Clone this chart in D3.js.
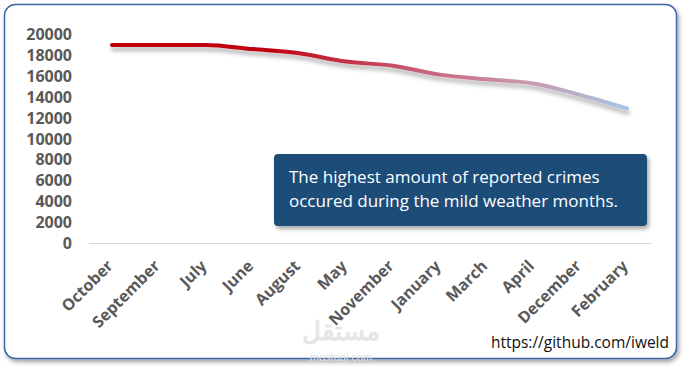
<!DOCTYPE html>
<html>
<head>
<meta charset="utf-8">
<script src="https://cdn.jsdelivr.net/npm/d3@7"></script>
<style>
  body { margin: 0; background: #fff; }
  svg { display: block; }
</style>
</head>
<body>
<svg width="684" height="367"></svg>
<script>
// data
var months = ["October", "September", "July", "June", "August", "May",
              "November", "January", "March", "April", "December", "February"];
var crimes = [19000, 19000, 19000, 18600, 18200, 17400,
              17000, 16150, 15700, 15300, 14200, 12900];
var yTicks = [0, 2000, 4000, 6000, 8000, 10000, 12000, 14000, 16000, 18000, 20000];
var note = ["The highest amount of reported crimes",
            "occured during the mild weather months."];

var svg = d3.select("svg");
var defs = svg.append("defs");

// soft shadows
var sh = defs.append("filter").attr("id", "shadow")
    .attr("x", "-10%").attr("y", "-30%").attr("width", "130%").attr("height", "180%");
sh.append("feDropShadow").attr("dx", 2).attr("dy", 3).attr("stdDeviation", 2)
    .attr("flood-color", "#000").attr("flood-opacity", 0.35);

var lsh = defs.append("filter").attr("id", "lineShadow")
    .attr("x", "-5%").attr("y", "-50%").attr("width", "110%").attr("height", "250%");
lsh.append("feDropShadow").attr("dx", 1).attr("dy", 4).attr("stdDeviation", 2)
    .attr("flood-color", "#000").attr("flood-opacity", 0.3);

// frame
svg.append("rect")
    .attr("x", 4.5).attr("y", 4.5).attr("width", 672).attr("height", 354)
    .attr("rx", 11).attr("fill", "#fff")
    .attr("stroke", "#3a66a8").attr("stroke-width", 1.5)
    .style("filter", "url(#shadow)");

var x = d3.scalePoint().domain(months).range([112, 627]);
var y = d3.scaleLinear().domain([0, 20000]).range([243, 34.5]);

// y axis labels
svg.append("g").selectAll("text")
    .data(yTicks)
    .enter().append("text")
    .attr("x", 72)
    .attr("y", function (d) { return y(d); })
    .attr("dy", "0.36em")
    .attr("text-anchor", "end")
    .style("font-family", "'Open Sans', sans-serif")
    .style("font-size", "16px")
    .style("font-weight", "bold")
    .style("fill", "#595959")
    .text(function (d) { return d; });

// baseline
svg.append("line")
    .attr("x1", 89).attr("x2", 652)
    .attr("y1", y(0) + 0.5).attr("y2", y(0) + 0.5)
    .attr("stroke", "#d9d9d9").attr("stroke-width", 1.2);

// x labels
svg.append("g").selectAll("text")
    .data(months)
    .enter().append("text")
    .attr("transform", function (d) { return "translate(" + (x(d) - 2) + ",263) rotate(-45)"; })
    .attr("text-anchor", "end")
    .attr("dy", "0.35em")
    .style("font-family", "'Open Sans', sans-serif")
    .style("font-size", "16px")
    .style("font-weight", "bold")
    .style("fill", "#595959")
    .text(function (d) { return d; });

// line gradient
var grad = defs.append("linearGradient").attr("id", "lineGrad")
    .attr("gradientUnits", "userSpaceOnUse")
    .attr("x1", x(months[0])).attr("x2", x(months[months.length - 1]))
    .attr("y1", 0).attr("y2", 0);
grad.append("stop").attr("offset", "0").attr("stop-color", "#c00000");
grad.append("stop").attr("offset", "0.3").attr("stop-color", "#c0000e");
grad.append("stop").attr("offset", "0.6").attr("stop-color", "#c8607a");
grad.append("stop").attr("offset", "0.8").attr("stop-color", "#c89aac");
grad.append("stop").attr("offset", "1").attr("stop-color", "#a9c4e6");

var line = d3.line()
    .x(function (d, i) { return x(months[i]); })
    .y(function (d) { return y(d); })
    .curve(d3.curveMonotoneX);

svg.append("path")
    .datum(crimes)
    .attr("d", line)
    .attr("fill", "none")
    .attr("stroke", "url(#lineGrad)")
    .attr("stroke-width", 4)
    .attr("stroke-linecap", "round")
    .style("filter", "url(#lineShadow)");

// callout
svg.append("rect")
    .attr("x", 274).attr("y", 154).attr("width", 373).attr("height", 72)
    .attr("rx", 4).attr("fill", "#1f4e79")
    .style("filter", "url(#shadow)");

svg.append("g").selectAll("text")
    .data(note)
    .enter().append("text")
    .attr("x", 289)
    .attr("y", function (d, i) { return 183 + i * 24; })
    .style("font-family", "'Open Sans', sans-serif")
    .style("font-size", "17px")
    .style("fill", "#fff")
    .text(function (d) { return d; });

// watermark
svg.append("text")
    .attr("x", 341).attr("y", 340).attr("text-anchor", "middle")
    .style("font-family", "'Noto Sans', sans-serif")
    .style("font-size", "26px").style("font-weight", "bold")
    .style("fill", "#e6e6e6")
    .text("مستقل");
svg.append("text")
    .attr("x", 341).attr("y", 361).attr("text-anchor", "middle")
    .style("font-family", "'Liberation Sans', sans-serif")
    .style("font-size", "11px")
    .style("fill", "#e0e0e0")
    .text("mostaql.com");

// source
svg.append("text")
    .attr("x", 669).attr("y", 348).attr("text-anchor", "end")
    .style("font-family", "'Open Sans', sans-serif")
    .style("font-size", "15.5px")
    .style("fill", "#111")
    .text("https://github.com/iweld");
</script>
</body>
</html>
